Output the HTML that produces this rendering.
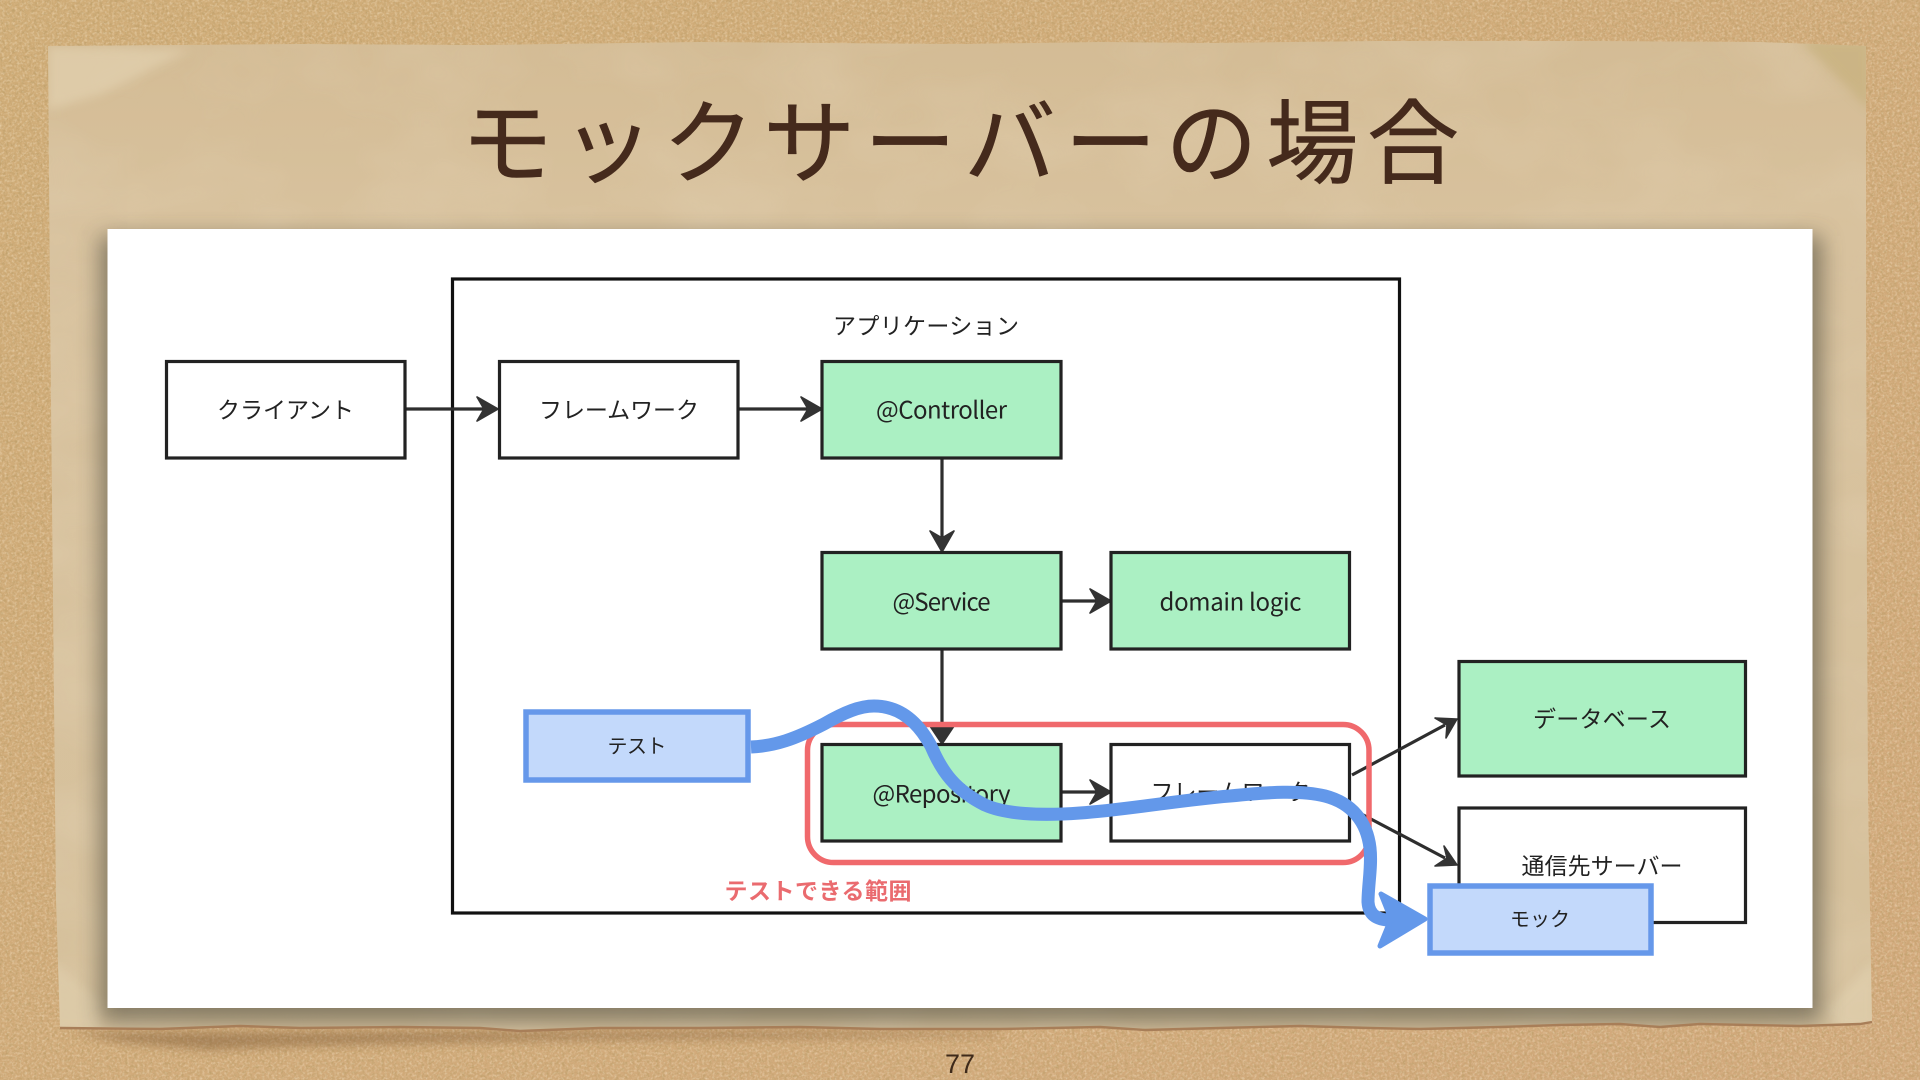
<!DOCTYPE html>
<html lang="ja"><head><meta charset="utf-8"><title>モックサーバーの場合</title>
<style>html,body{margin:0;padding:0;width:1920px;height:1080px;overflow:hidden;background:#cfa875}svg{display:block}
.l{font-family:"Liberation Sans","Noto Sans CJK JP",sans-serif;font-size:23px;fill:#222;text-anchor:middle;dominant-baseline:central}
.n{font-family:"Noto Sans CJK JP",sans-serif;font-size:24px;fill:#222;text-anchor:middle;dominant-baseline:central}
.b{stroke:#222;stroke-width:3.2;fill:#fff}.g{fill:#abf0c3}.t{stroke:#6698ea;stroke-width:5.5;fill:#c3d9fb}.a{stroke:#2e2e2e;stroke-width:3.2;fill:none}.h{fill:#333;stroke:#333;stroke-width:1.6;stroke-linejoin:round}
</style></head><body>
<svg xmlns="http://www.w3.org/2000/svg" width="1920" height="1080" viewBox="0 0 1920 1080">
<defs>
<filter id="cork" x="0" y="0" width="100%" height="100%"><feTurbulence type="fractalNoise" baseFrequency="0.32" numOctaves="3" seed="4"/><feColorMatrix values="0 0 0 0 0.5  0 0 0 0 0.34  0 0 0 0 0.14  2.2 0 0 0 -0.95"/></filter>
<filter id="cork2" x="0" y="0" width="100%" height="100%"><feTurbulence type="fractalNoise" baseFrequency="0.4" numOctaves="2" seed="11"/><feColorMatrix values="0 0 0 0 0.95  0 0 0 0 0.82  0 0 0 0 0.62  0 2 0 0 -0.88"/></filter>
<filter id="blot" x="0" y="0" width="100%" height="100%"><feTurbulence type="fractalNoise" baseFrequency="0.008 0.012" numOctaves="3" seed="9"/><feColorMatrix values="0 0 0 0 0.9  0 0 0 0 0.8  0 0 0 0 0.64  0 0.9 0 0 -0.33"/></filter>
<filter id="s20" x="-10%" y="-10%" width="120%" height="120%"><feGaussianBlur stdDeviation="11"/></filter>
<filter id="s5" x="-10%" y="-50%" width="120%" height="200%"><feGaussianBlur stdDeviation="5"/></filter>
<linearGradient id="p" x1="0" y1="0" x2="0" y2="1"><stop offset="0" stop-color="#d4bc95"/><stop offset=".2" stop-color="#d8c29e"/><stop offset="1" stop-color="#d6c19c"/></linearGradient>
<linearGradient id="c" x1="0" y1="0" x2="1" y2="1"><stop offset="0" stop-color="#d0ad78"/><stop offset="1" stop-color="#d2a97c"/></linearGradient>
<clipPath id="pc"><path id="pp" d="M48,46 L180,45 L300,44 L480,45 L700,42 L960,44 L1100,42 L1210,43 L1380,41 L1600,41 L1760,42 L1866,46 L1866,300 L1867,600 L1868,800 L1872,1022 L1860,1024 L1800,1026 L1700,1024 L1660,1027 L1620,1024 L1560,1025 L1500,1027 L1420,1029 L1370,1028 L1300,1026 L1220,1028 L1145,1030 L1100,1027 L1000,1029 L880,1029 L800,1027 L700,1028 L600,1028 L520,1031 L480,1028 L400,1027 L300,1028 L240,1026 L160,1029 L60,1028 L56,900 L54,700 L52,500 L50,300 Z"/></clipPath>
</defs>
<rect width="1920" height="1080" fill="url(#c)"/>
<rect width="1920" height="1080" filter="url(#cork)" opacity=".8"/>
<rect width="1920" height="1080" filter="url(#cork2)" opacity=".5"/>
<path d="M70,1032 L300,1032 L560,1031 L800,1031 L1000,1033 L1000,1036 L560,1040 L300,1046 L210,1050 L120,1042 Z" fill="#6d4a28" opacity=".4" filter="url(#s5)"/>
<use href="#pp" fill="url(#p)"/>
<g clip-path="url(#pc)">
<rect width="1920" height="1080" filter="url(#blot)" opacity=".35"/>
<path d="M48,46 L190,50 L100,95 L48,110 Z" fill="#e4d4b4" opacity=".6" filter="url(#s5)"/>
<path d="M1800,40 L1870,40 L1870,110 Z" fill="#c6b07c" opacity=".7" filter="url(#s5)"/>
<path d="M1825,1010 L1875,960 L1875,1030 L1840,1030 Z" fill="#e6d8b8" opacity=".45" filter="url(#s5)"/>
<path d="M50,960 L100,1000 L100,1030 L50,1030 Z" fill="#e6d8b8" opacity=".35" filter="url(#s5)"/>
<rect x="100" y="236" width="1722" height="786" fill="#53503f" opacity=".62" filter="url(#s20)"/>
</g>
<path d="M1872,1022 L1860,1024 L1800,1026 L1700,1024 L1660,1027 L1620,1024 L1560,1025 L1500,1027 L1420,1029 L1370,1028 L1300,1026 L1220,1028 L1145,1030 L1100,1027 L1000,1029 L880,1029 L800,1027 L700,1028 L600,1028 L520,1031 L480,1028 L400,1027 L300,1028 L240,1026 L160,1029 L60,1028" fill="none" stroke="#a87e58" stroke-width="2.4"/>
<rect x="107.5" y="229" width="1705" height="779" fill="#fff"/>
<text x="960" y="176" text-anchor="middle" textLength="998" font-family="Noto Sans CJK JP, sans-serif" font-size="92" fill="#452a1c" stroke="#452a1c" stroke-width=".6" stroke-linejoin="round">モックサーバーの場合</text>
<text x="960" y="1073" text-anchor="middle" font-family="Liberation Sans, sans-serif" font-size="27" fill="#3e2a1a">77</text>

<rect x="452.5" y="279" width="947" height="634" fill="none" stroke="#111" stroke-width="3.2"/>
<text class="l" x="926" y="326" textLength="186">アプリケーション</text>

<path class="a" d="M405,409 H485M738,409 H808M942,459 V540M1061,601 H1098M942,649 V732M1061,792 H1098M1352,775 L1445,725M1350,808 L1445,858"/>
<path class="h" d="M498,409 L477,397 L484,409 L477,421 ZM822,409 L801,397 L808,409 L801,421 ZM942,552 L930,531 L942,538 L954,531 ZM1111,601 L1090,589 L1097,601 L1090,613 ZM942,744 L930,726 L954,726 ZM1111,792 L1090,780 L1097,792 L1090,804 ZM1457,719 L1435,718 L1447,725 L1446,738 ZM1457,865 L1435,866 L1447,858 L1444,846 Z"/>

<rect class="b" x="166.5" y="361.5" width="238.5" height="96.5"/><text class="l" x="285.5" y="410" textLength="137">クライアント</text>
<rect class="b" x="499.5" y="361.5" width="238.5" height="96.5"/><text class="l" x="619" y="410" textLength="160">フレームワーク</text>
<rect class="b g" x="822" y="361.5" width="239" height="96.5"/><text class="n" x="941.5" y="408" textLength="131">@Controller</text>
<rect class="b g" x="822" y="552.5" width="239" height="96.5"/><text class="n" x="941.5" y="600" textLength="98">@Service</text>
<rect class="b g" x="1111" y="552.5" width="238.5" height="96.5"/><text class="n" x="1230.5" y="600" textLength="142">domain logic</text>
<rect class="b g" x="822" y="744.5" width="239" height="96.5"/><text class="n" x="941.5" y="792" textLength="138">@Repository</text>
<rect class="b" x="1111" y="744.5" width="238.5" height="96.5"/><text class="l" x="1230.5" y="792" textLength="160">フレームワーク</text>
<rect x="1114" y="801" width="225" height="16" fill="#fff"/>
<rect class="b g" x="1459" y="661.5" width="286.5" height="114.5"/><text class="l" x="1602" y="719" textLength="138">データベース</text>
<rect class="b" x="1459" y="808" width="286.5" height="114.5"/><text class="l" x="1602" y="866" textLength="161">通信先サーバー</text>

<rect x="807.5" y="724.5" width="561.5" height="138" rx="26" fill="none" stroke="#f0696c" stroke-width="5.5"/>
<text x="818" y="889" text-anchor="middle" dominant-baseline="central" textLength="187" font-family="Noto Sans CJK JP, sans-serif" font-weight="700" font-size="23" fill="#ea6b6f">テストできる範囲</text>

<rect class="t" x="526" y="712" width="222" height="68"/><text class="l" style="font-size:20px" x="637" y="747" textLength="59">テスト</text>
<rect class="t" x="1430" y="886" width="221" height="67"/><text class="l" style="font-size:20px" x="1540" y="920" textLength="60">モック</text>

<path d="M751,747 C775,746 795,739 824,724 C845,712 860,706 874,706 C900,706 918,722 931,746 C942,772 955,790 985,805 C1005,814 1040,816 1080,813 C1125,810 1180,800 1230,796 C1270,792 1300,790 1325,796 C1352,803 1367,822 1370,848 C1372,866 1368,885 1368,902 C1369,917 1380,921 1396,920" fill="none" stroke="#6398ea" stroke-width="13" stroke-linejoin="round"/>
<path d="M1425,919 L1381,894 L1391,919 L1380,946 Z" fill="#6398ea" stroke="#6398ea" stroke-width="5" stroke-linejoin="round"/>
</svg>
</body></html>
